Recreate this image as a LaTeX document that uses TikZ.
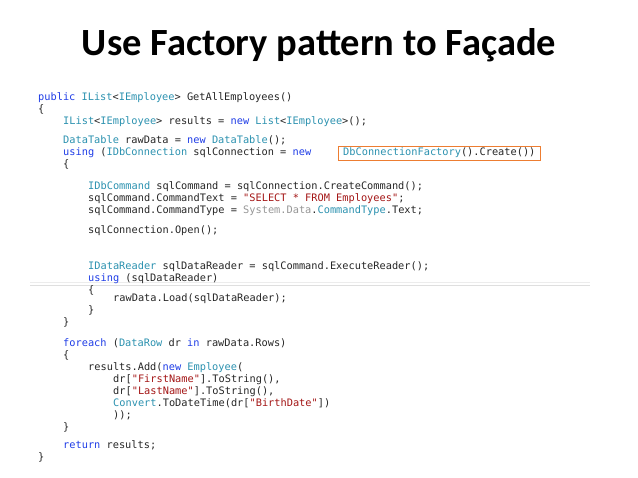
\documentclass[tikz,border=0pt]{standalone}
\usepackage{fontspec}
\setmainfont{Carlito}
\setmonofont{DejaVu Sans Mono}
\definecolor{kw}{RGB}{30,60,230}
\definecolor{ty}{RGB}{43,145,175}
\definecolor{st}{RGB}{163,21,21}
\definecolor{gr}{RGB}{150,150,150}
\definecolor{box}{RGB}{237,125,49}
\newcommand{\K}[1]{\textcolor{kw}{#1}}
\newcommand{\T}[1]{\textcolor{ty}{#1}}
\newcommand{\Sg}[1]{\textcolor{st}{#1}}
\tikzset{code/.style={anchor=base west,inner sep=0pt,font=\ttfamily\fontsize{10.3}{12}\selectfont,text=black!85}}
\begin{document}
\begin{tikzpicture}[x=1pt,y=-1pt]
\useasboundingbox (0,0) rectangle (638,478);
\node[font=\bfseries\fontsize{38.5}{42}\selectfont] (title) at (319,45) {Use Factory pattern to Façade};
\draw[gray!25,line width=1pt] (30,286) -- (590,286);
\draw[gray!15,line width=0.6pt] (30,282) -- (590,282);
\def\a{38}\def\b{63}\def\c{88}\def\d{113}
\node[code] (l1) at (\a,101) {\K{public} \T{IList}<\T{IEmployee}> GetAllEmployees()};
\node[code] (l2) at (\a,113) {\{};
\node[code] (l3) at (\b,125) {\T{IList}<\T{IEmployee}> results = \K{new} \T{List}<\T{IEmployee}>();};
\node[code] (l4) at (\b,144) {\T{DataTable} rawData = \K{new} \T{DataTable}();};
\node[code] (l5) at (\b,156) {\K{using} (\T{IDbConnection} sqlConnection = \K{new}};
\node[code] (l5b) at (343,156) {\T{DbConnectionFactory}().Create())};
\node[code] (l6) at (\b,168) {\{};
\node[code] (l7) at (\c,190) {\T{IDbCommand} sqlCommand = sqlConnection.CreateCommand();};
\node[code] (l8) at (\c,202) {sqlCommand.CommandText = \Sg{"SELECT * FROM Employees"};};
\node[code] (l9) at (\c,214) {sqlCommand.CommandType = \textcolor{gr}{System.Data}.\T{CommandType}.Text;};
\node[code] (l10) at (\c,234) {sqlConnection.Open();};
\node[code] (l11) at (\c,270) {\T{IDataReader} sqlDataReader = sqlCommand.ExecuteReader();};
\node[code] (l12) at (\c,282) {\K{using} (sqlDataReader)};
\node[code] (l13) at (\c,294) {\{};
\node[code] (l14) at (\d,302) {rawData.Load(sqlDataReader);};
\node[code] (l15) at (\c,314) {\}};
\node[code] (l16) at (\b,326) {\}};
\node[code] (l17) at (\b,347) {\K{foreach} (\T{DataRow} dr \K{in} rawData.Rows)};
\node[code] (l18) at (\b,359) {\{};
\node[code] (l19) at (\c,371) {results.Add(\K{new} \T{Employee}(};
\node[code] (l20) at (\d,383) {dr[\Sg{"FirstName"}].ToString(),};
\node[code] (l21) at (\d,395) {dr[\Sg{"LastName"}].ToString(),};
\node[code] (l22) at (\d,407) {\T{Convert}.ToDateTime(dr[\Sg{"BirthDate"}])};
\node[code] (l23) at (\d,419) {));};
\node[code] (l24) at (\b,431) {\}};
\node[code] (l25) at (\b,449) {\K{return} results;};
\node[code] (l26) at (\a,461) {\}};
\node[draw=box,line width=0.9pt,inner sep=0pt,minimum width=202pt,minimum height=14pt,anchor=north west] (hl) at (338,146) {};
\end{tikzpicture}
\end{document}
